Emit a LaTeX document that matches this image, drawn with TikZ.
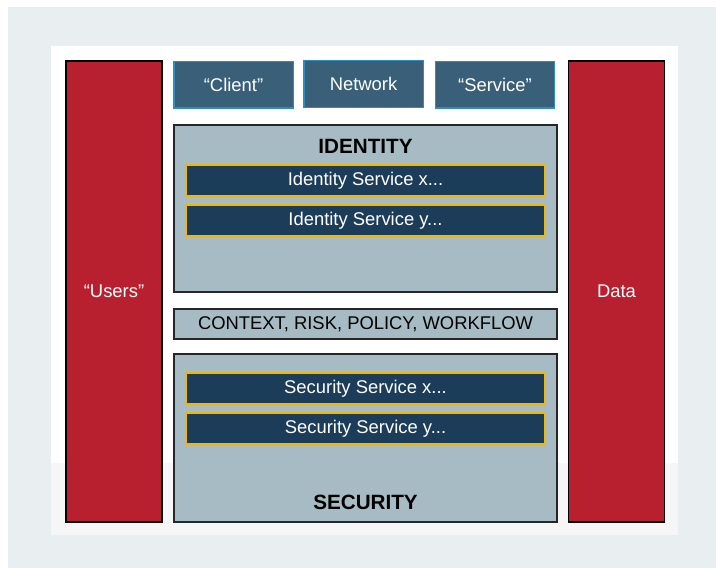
\documentclass[tikz,border=0pt]{standalone}
\usepackage{fontspec}
\setmainfont{Liberation Sans}
\definecolor{bggray}{HTML}{E9EEF1}
\definecolor{redbox}{HTML}{B8202F}
\definecolor{topblue}{HTML}{3A6079}
\definecolor{topborder}{HTML}{2A8FC0}
\definecolor{panel}{HTML}{A6BBC3}
\definecolor{darkbar}{HTML}{1C3D5A}
\definecolor{gold}{HTML}{F2B705}
\definecolor{lowpanel}{HTML}{F6F6F6}
\begin{document}
\begin{tikzpicture}[x=0.75pt,y=-0.75pt,
  txt/.style={font=\fontsize{13.8}{15}\selectfont},
  box/.style={rectangle,inner sep=0pt,outer sep=0pt},
  redcol/.style={box,draw=black,fill=redbox,line width=1.2pt,text=white,txt,minimum width=72pt,minimum height=345.75pt},
  topbox/.style={box,draw=topborder,fill=topblue,line width=1pt,text=white,txt,minimum width=89.5pt,minimum height=35pt},
  bigpanel/.style={box,draw=black!85,fill=panel,line width=1pt,minimum width=287.25pt},
  bar/.style={box,draw=gold,fill=darkbar,line width=1pt,text=white,txt,minimum width=269.25pt,minimum height=23.25pt},
  ttl/.style={font=\bfseries\fontsize{15.5}{17}\selectfont,text=black}]
\useasboundingbox (0,0) rectangle (716,568);
\fill[white] (0,0) rectangle (716,568);
\fill[bggray] (8,7) rectangle (716,568);
\fill[white] (51,46) rectangle (678,463);
\fill[lowpanel] (51,463) rectangle (678,535);
% red columns
\node[redcol] (users) at (114,291.5) {“Users”};
\node[redcol] (data) at (616.5,291.5) {Data};
% top boxes
\node[topbox] (client) at (233.5,84.5) {“Client”};
\node[topbox] (network) at (363.5,84) {Network};
\node[topbox] (service) at (495,84.5) {“Service”};
% identity
\node[bigpanel,minimum height=125.25pt] (identity) at (365.5,208.5) {};
\node[ttl] (idt) at (365.5,146) {IDENTITY};
\node[bar] (idx) at (365.5,180.5) {Identity Service x...};
\node[bar] (idy) at (365.5,220.5) {Identity Service y...};
% context
\node[bigpanel,minimum height=22.5pt,txt] (ctx) at (365.5,324) {CONTEXT, RISK, POLICY, WORKFLOW};
% security
\node[bigpanel,minimum height=126pt] (security) at (365.5,438) {};
\node[bar] (secx) at (365.5,388.5) {Security Service x...};
\node[bar] (secy) at (365.5,428.5) {Security Service y...};
\node[ttl] (sect) at (365.5,502) {SECURITY};
\end{tikzpicture}
\end{document}
